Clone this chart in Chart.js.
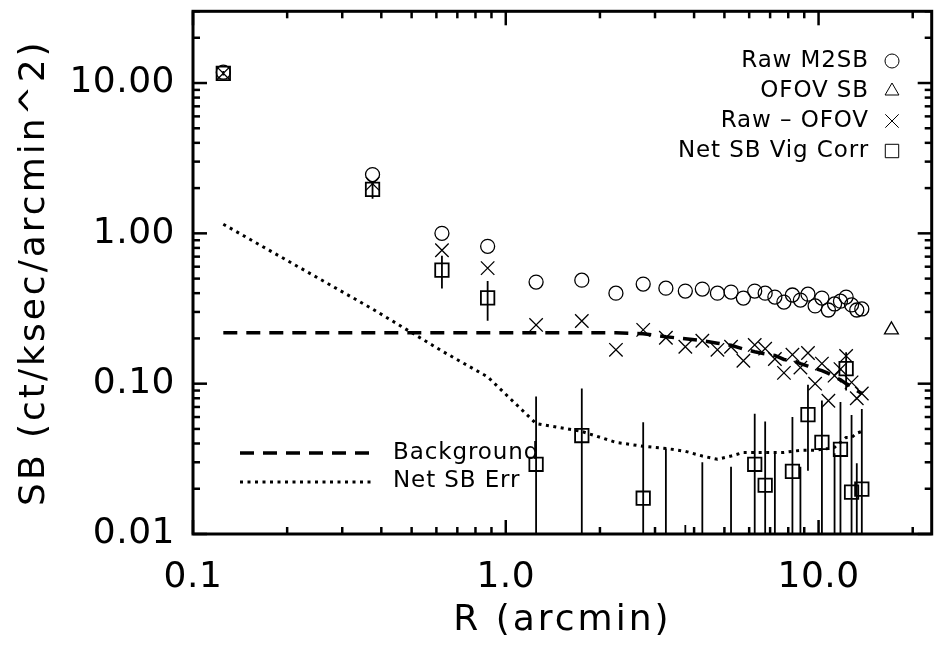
<!DOCTYPE html>
<html>
<head>
<meta charset="utf-8">
<script src="https://cdn.jsdelivr.net/npm/chart.js@4.4.1/dist/chart.umd.min.js"></script>
<style>
  body { margin: 0; background: #fff; }
  #wrap { width: 943px; height: 650px; }
</style>
</head>
<body>
<div id="wrap"><canvas id="sb-chart"></canvas></div>
<script>
// annulus radii (arcmin)
const radius = [0.125, 0.375, 0.625, 0.875, 1.25, 1.75, 2.25, 2.75, 3.25, 3.75,
  4.25, 4.75, 5.25, 5.75, 6.25, 6.75, 7.25, 7.75, 8.25, 8.75,
  9.25, 9.75, 10.25, 10.75, 11.25, 11.75, 12.25, 12.75, 13.25, 13.75];

const rawSB = [11.8, 2.46, 1.00, 0.82, 0.474, 0.488, 0.400, 0.460, 0.432, 0.413,
  0.426, 0.400, 0.407, 0.371, 0.413, 0.400, 0.377, 0.349, 0.389, 0.360,
  0.394, 0.329, 0.371, 0.309, 0.339, 0.354, 0.377, 0.334, 0.309, 0.314];

const rawMinusOfov = [11.6, 2.14, 0.772, 0.587, 0.246, 0.261, 0.168, 0.228, 0.202, 0.176,
  0.193, 0.168, 0.176, 0.142, 0.181, 0.171, 0.146, 0.118, 0.156, 0.128,
  0.160, 0.100, 0.136, 0.077, 0.113, 0.125, 0.153, 0.102, 0.080, 0.086];

// vignetting corrected net SB and its 1-sigma error (null = nothing drawn)
const netSB = [11.6, 1.96, 0.569, 0.372, 0.0291, 0.0452, null, 0.0173, 0.005, 0.004,
  0.005, null, 0.005, null, 0.0291, 0.0211, 0.005, null, 0.0261, 0.005,
  0.0623, null, 0.0407, null, 0.005, 0.0366, 0.126, 0.0190, 0.005, 0.0199];
const netSBErr = [0.4, 0.26, 0.14, 0.11, 0.053, 0.0475, null, 0.038, 0.032, 0.0075,
  0.025, null, 0.023, null, 0.034, 0.035, 0.0294, null, 0.034, 0.023,
  0.036, null, 0.0365, null, 0.0294, 0.039, 0.036, 0.043, 0.0245, 0.048];

const background = [0.218, 0.218, 0.218, 0.218, 0.218, 0.218, 0.218, 0.215, 0.205, 0.199,
  0.193, 0.186, 0.180, 0.170, 0.163, 0.158, 0.154, 0.145, 0.143, 0.136,
  0.131, 0.126, 0.122, 0.117, 0.111, 0.106, 0.100, 0.096, 0.090, 0.086];

const netErrCurve = [1.15, 0.314, 0.165, 0.111, 0.0543, 0.0481, 0.0407, 0.0383, 0.0371, 0.0355,
  0.0330, 0.0314, 0.0330, 0.0349, 0.0349, 0.0349, 0.0349, 0.0349, 0.0355, 0.0360,
  0.0360, 0.0360, 0.0366, 0.0371, 0.0377, 0.0407, 0.0439, 0.0439, 0.0468, 0.0481];

const ofovR = [17.1];
const ofovSB = [0.228];

const xTickValues = [0.1, 1, 10];
const yTickValues = [0.01, 0.1, 1, 10];

const FONT = "'DejaVu Sans', 'Liberation Sans', sans-serif";
Chart.defaults.font.family = FONT;
Chart.defaults.color = '#000';

const pts = (xs, ys) => xs.map((v, i) => ({ x: v, y: ys[i] })).filter(p => p.y !== null);

// wide vector-font look: a little spacing for tick labels, more for axis titles
const spacing = {
  id: 'spacing',
  beforeUpdate(chart) { chart.ctx.letterSpacing = '0.5px'; },
  beforeDraw(chart) {
    const ctx = chart.ctx;
    ctx.letterSpacing = '0.5px';
    Object.values(chart.scales).forEach(s => {
      if (s._wideTitle) return;
      const orig = s.drawTitle.bind(s);
      s.drawTitle = () => { ctx.letterSpacing = '3px'; orig(); ctx.letterSpacing = '0.5px'; };
      s._wideTitle = true;
    });
  }
};

// IDL style frame with inward ticks on all four sides
const frameTicks = {
  id: 'frameTicks',
  afterDraw(chart) {
    const { ctx, chartArea: a, scales: { x, y } } = chart;
    ctx.save();
    ctx.strokeStyle = '#000';
    ctx.lineWidth = 3;
    ctx.strokeRect(a.left, a.top, a.right - a.left, a.bottom - a.top);
    ctx.lineWidth = 2.5;
    const tick = (x0, y0, x1, y1) => { ctx.beginPath(); ctx.moveTo(x0, y0); ctx.lineTo(x1, y1); ctx.stroke(); };
    [0.1, 1, 10].forEach(d => {
      for (let k = 1; k < 10; k++) {
        const v = k * d;
        if (v < x.min || v > x.max) continue;
        const px = x.getPixelForValue(v);
        const len = k === 1 ? 14 : 7;
        tick(px, a.bottom, px, a.bottom - len);
        tick(px, a.top, px, a.top + len);
      }
    });
    [0.01, 0.1, 1, 10].forEach(d => {
      for (let k = 1; k < 10; k++) {
        const v = k * d;
        if (v < y.min || v > y.max) continue;
        const py = y.getPixelForValue(v);
        const len = k === 1 ? 14 : 7;
        tick(a.left, py, a.left + len, py);
        tick(a.right, py, a.right - len, py);
      }
    });
    ctx.restore();
  }
};

const errorBars = {
  id: 'errorBars',
  afterDatasetsDraw(chart) {
    const { ctx, chartArea: a, scales: { x, y } } = chart;
    ctx.save();
    ctx.beginPath();
    ctx.rect(a.left, a.top, a.right - a.left, a.bottom - a.top);
    ctx.clip();
    ctx.strokeStyle = '#000';
    ctx.lineWidth = 1.8;
    radius.forEach((r, i) => {
      if (netSB[i] === null) return;
      const hi = netSB[i] + netSBErr[i];
      const lo = netSB[i] - netSBErr[i];
      const px = x.getPixelForValue(r);
      const top = y.getPixelForValue(hi);
      const bot = lo > 0 ? Math.min(y.getPixelForValue(lo), a.bottom) : a.bottom;
      ctx.beginPath();
      ctx.moveTo(px, top);
      ctx.lineTo(px, bot);
      ctx.stroke();
    });
    ctx.restore();
  }
};

// the two legends drawn inside the plot
const legends = {
  id: 'legends',
  afterDraw(chart) {
    const ctx = chart.ctx;
    ctx.save();
    ctx.letterSpacing = '0.9px';
    ctx.fillStyle = '#000';
    ctx.strokeStyle = '#000';
    ctx.font = '23px ' + FONT;
    ctx.textBaseline = 'middle';
    const items = [
      ['Raw M2SB', 'circle', 7],
      ['OFOV SB', 'triangle', 8],
      ['Raw \u2013 OFOV', 'crossRot', 9.5],
      ['Net SB Vig Corr', 'rect', 9.5]
    ];
    items.forEach((it, i) => {
      const yy = 61 + i * 30;
      ctx.textAlign = 'right';
      ctx.fillStyle = '#000';
      ctx.fillText(it[0], 869, yy);
      ctx.fillStyle = 'rgba(0,0,0,0)';
      Chart.helpers.drawPoint(ctx, { pointStyle: it[1], radius: it[2], rotation: 0, borderWidth: 1.3 }, 892, yy);
    });
    ctx.fillStyle = '#000';
    ctx.textAlign = 'left';
    ctx.lineWidth = 3.5;
    ctx.setLineDash([14, 9]);
    ctx.beginPath(); ctx.moveTo(240, 453); ctx.lineTo(372, 453); ctx.stroke();
    ctx.lineWidth = 3;
    ctx.setLineDash([3, 4.5]);
    ctx.beginPath(); ctx.moveTo(240, 482); ctx.lineTo(374, 482); ctx.stroke();
    ctx.setLineDash([]);
    ctx.fillText('Background', 393, 453);
    ctx.fillText('Net SB Err', 393, 481);
    ctx.restore();
  }
};

const markerBase = { showLine: false, borderColor: '#000', backgroundColor: 'rgba(0,0,0,0)', pointBorderWidth: 1.3 };

new Chart(document.getElementById('sb-chart'), {
  type: 'scatter',
  data: {
    datasets: [
      { ...markerBase, label: 'Raw M2SB', data: pts(radius, rawSB), pointStyle: 'circle', pointRadius: 7 },
      { ...markerBase, label: 'OFOV SB', data: pts(ofovR, ofovSB), pointStyle: 'triangle', pointRadius: 8 },
      { ...markerBase, label: 'Raw - OFOV', data: pts(radius, rawMinusOfov), pointStyle: 'crossRot', pointRadius: 9.5 },
      { ...markerBase, label: 'Net SB Vig Corr', data: pts(radius, netSB).filter(p => p.y >= 0.01),
        pointStyle: 'rect', pointRadius: 9.5, pointBorderWidth: 1.8 },
      { type: 'line', label: 'Background', data: pts(radius, background), showLine: true,
        borderColor: '#000', borderWidth: 3.5, borderDash: [14, 9], pointRadius: 0, tension: 0, fill: false },
      { type: 'line', label: 'Net SB Err', data: pts(radius, netErrCurve), showLine: true,
        borderColor: '#000', borderWidth: 3, borderDash: [3, 4.5], pointRadius: 0, tension: 0, fill: false }
    ]
  },
  options: {
    responsive: true,
    maintainAspectRatio: false,
    animation: false,
    layout: { padding: { left: 0, right: 8, top: 9, bottom: 0 } },
    plugins: { legend: { display: false }, tooltip: { enabled: false } },
    scales: {
      x: {
        type: 'logarithmic', min: 0.1, max: 23,
        grid: { display: false, drawTicks: false },
        border: { display: false },
        afterBuildTicks: s => { s.ticks = xTickValues.map(v => ({ value: v })); },
        afterFit: s => { s.height = 116; s.paddingLeft = 0; s.paddingRight = 0; },
        ticks: { font: { size: 36 }, color: '#000', padding: 22, maxRotation: 0, autoSkip: false,
          callback: v => Number(v).toFixed(1) },
        title: { display: true, text: 'R (arcmin)', font: { size: 36 }, color: '#000', padding: { top: 0, bottom: 8 } }
      },
      y: {
        type: 'logarithmic', min: 0.01, max: 30,
        grid: { display: false, drawTicks: false },
        border: { display: false },
        afterBuildTicks: s => { s.ticks = yTickValues.map(v => ({ value: v })); },
        afterFit: s => { s.width = 193; s.paddingTop = 0; s.paddingBottom = 0; },
        ticks: { font: { size: 36 }, color: '#000', padding: 18, autoSkip: false,
          callback: v => Number(v).toFixed(2) },
        title: { display: true, text: 'SB (ct/ksec/arcmin^2)', font: { size: 36 }, color: '#000', padding: { top: 13, bottom: 0 } }
      }
    }
  },
  plugins: [spacing, errorBars, frameTicks, legends]
});
</script>
</body>
</html>
